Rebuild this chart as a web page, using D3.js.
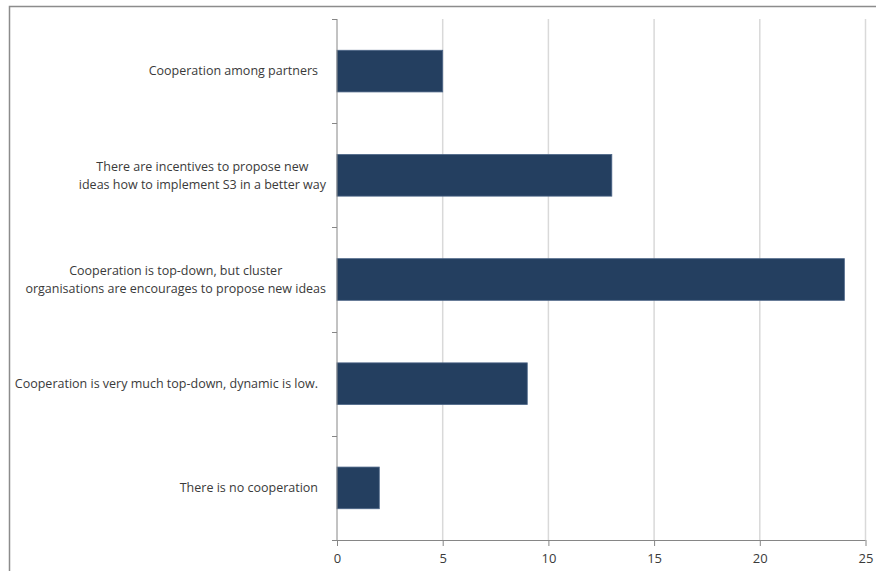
<!DOCTYPE html>
<html>
<head>
<meta charset="utf-8">
<script src="https://cdn.jsdelivr.net/npm/d3@7"></script>
<style>
  body { margin: 0; background: #fff; }
  svg { display: block; }
  text { font-family: "Open Sans", "Liberation Sans", sans-serif; fill: #3a3a3a; }
</style>
</head>
<body>
<svg width="876" height="571"></svg>
<script>
// categories top to bottom, each one an array of label lines
const categories = [
  ['Cooperation among partners'],
  ['There are incentives to propose new', 'ideas how to implement S3 in a better way'],
  ['Cooperation is top-down, but cluster', 'organisations are encourages to propose new ideas'],
  ['Cooperation is very much top-down, dynamic is low.'],
  ['There is no cooperation']
]
const values = [5, 13, 24, 9, 2]
const xTicks = [0, 5, 10, 15, 20, 25]

const svg = d3.select('svg')
const plot = { left: 337, right: 865.5, top: 19, bottom: 540 }

// outer chart border (cropped at right and bottom)
svg.append('rect')
  .attr('x', 9.5).attr('y', 6.5)
  .attr('width', 900).attr('height', 600)
  .attr('fill', 'none')
  .attr('stroke', '#8c8c8c')
  .attr('stroke-width', 1.5)

const x = d3.scaleLinear().domain([0, 25]).range([plot.left, plot.right])
const y = d3.scaleBand()
  .domain(d3.range(categories.length))
  .range([plot.top, plot.bottom])
  .paddingInner(0.6)
  .paddingOuter(0.3)

// vertical gridlines
svg.append('g')
  .selectAll('line')
  .data(xTicks.slice(1))
  .enter()
  .append('line')
  .attr('x1', d => x(d)).attr('x2', d => x(d))
  .attr('y1', plot.top).attr('y2', plot.bottom)
  .attr('stroke', '#d9d9d9')
  .attr('stroke-width', 1.5)

// bars
svg.append('g')
  .selectAll('rect')
  .data(values)
  .enter()
  .append('rect')
  .attr('x', x(0))
  .attr('y', (d, i) => y(i))
  .attr('width', d => x(d) - x(0))
  .attr('height', y.bandwidth())
  .attr('fill', '#243f60')
  .attr('stroke', '#4d6688')
  .attr('stroke-width', 0.8)

// x axis
const xAxis = d3.axisBottom(x).tickValues(xTicks).tickSize(6).tickPadding(8)
const gx = svg.append('g')
  .attr('transform', `translate(0,${plot.bottom})`)
  .call(xAxis)
gx.select('.domain').attr('stroke', '#868686').attr('d', `M${plot.left - 5},0.5H${plot.right}`)
gx.selectAll('.tick line').attr('stroke', '#868686')
gx.selectAll('.tick text')
  .attr('fill', '#3a3a3a')
  .style('font-size', '13px')
  .style('font-family', '"Open Sans", "Liberation Sans", sans-serif')

// y axis line and category boundary ticks
svg.append('line')
  .attr('x1', plot.left).attr('x2', plot.left)
  .attr('y1', plot.top).attr('y2', plot.bottom)
  .attr('stroke', '#868686')
svg.append('g')
  .selectAll('line')
  .data(d3.range(categories.length))
  .enter()
  .append('line')
  .attr('x1', plot.left - 5).attr('x2', plot.left)
  .attr('y1', i => Math.round(y(i) - y.step() * y.paddingInner() / 2) + 0.5)
  .attr('y2', i => Math.round(y(i) - y.step() * y.paddingInner() / 2) + 0.5)
  .attr('stroke', '#868686')

// category labels: block right-aligned, lines centred on each other
const lineGap = 18
const labels = svg.append('g')
categories.forEach((lines, i) => {
  const cy = y(i) + y.bandwidth() / 2
  const right = lines.length > 1 ? 326 : 318
  const t = labels.append('text')
    .style('font-size', '12.5px')
    .attr('text-anchor', 'middle')
  lines.forEach((line, j) => {
    t.append('tspan')
      .attr('y', cy + (j - (lines.length - 1) / 2) * lineGap)
      .attr('dy', '0.35em')
      .text(line)
  })
  const w = d3.max(t.selectAll('tspan').nodes(), n => n.getComputedTextLength())
  t.selectAll('tspan').attr('x', right - w / 2)
})
</script>
</body>
</html>
